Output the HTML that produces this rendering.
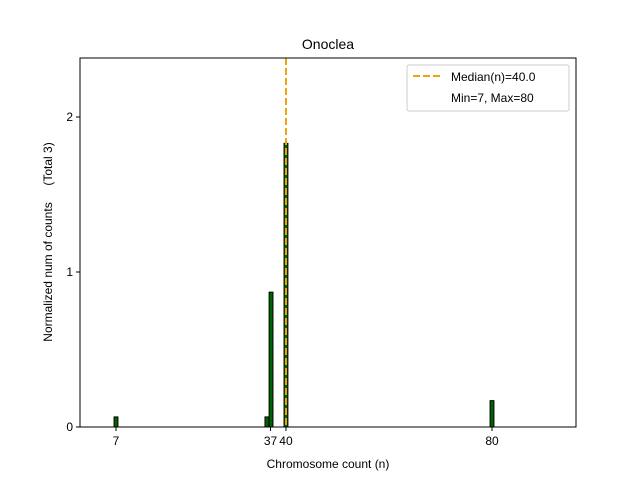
<!DOCTYPE html>
<html><head><meta charset="utf-8"><style>
body{margin:0;background:#fff;font-family:"Liberation Sans","DejaVu Sans",sans-serif}
svg text{font-family:"Liberation Sans","DejaVu Sans",sans-serif}
</style></head><body>
<svg id="c" width="640" height="480" xmlns="http://www.w3.org/2000/svg"></svg>
<script>
const binCenters=[7,36.3,37.1,40,80];
const binValues=[0.065,0.065,0.87,1.83,0.17];
const xTickValues=[7,37,40,80];
const xTickLabels=["7","37","40","80"];
const yTickValues=[0,1,2];
const medianValue=40;
const L=80,R=576,T=58,B=427;
const xs=v=>116+(v-7)*(376/73);
const ys=v=>B-v*155;
const svg=document.getElementById('c');
const NS='http://www.w3.org/2000/svg';
function mk(tag,attrs,parent){const e=document.createElementNS(NS,tag);for(const k in attrs)e.setAttribute(k,attrs[k]);(parent||svg).appendChild(e);return e;}
binCenters.forEach((c,i)=>{
  const w=0.75*376/73;
  const r=mk('rect',{x:xs(c)-w/2,y:ys(binValues[i]),width:w,height:B-ys(binValues[i]),fill:'#006400',stroke:'#000','stroke-width':1});
  
  
});
const ml=mk('line',{x1:xs(medianValue),x2:xs(medianValue),y1:T,y2:B,stroke:'#f0a30a','stroke-width':2,'stroke-dasharray':'7,3'});


const fr=mk('rect',{x:L,y:T,width:R-L,height:B-T,fill:'none',stroke:'#000','stroke-width':1});


xTickValues.forEach((v,i)=>{
  const x=xs(v);
  mk('line',{x1:x,x2:x,y1:B,y2:B+4,stroke:'#000'});
  const t=mk('text',{x:x,y:B+18,'font-size':12,'text-anchor':'middle'});
  t.textContent=xTickLabels[i];
  
  
});
yTickValues.forEach(v=>{
  const y=ys(v);
  mk('line',{x1:L-4,x2:L,y1:y,y2:y,stroke:'#000'});
  const t=mk('text',{x:L-7,y:y+4,'font-size':12,'text-anchor':'end'});
  t.textContent=String(v);
  
  
});
</script>
<svg width="640" height="480" style="position:absolute;left:0;top:0" xmlns="http://www.w3.org/2000/svg">
<text x="328" y="49" font-size="14" text-anchor="middle">Onoclea</text>
<text x="328" y="468" font-size="12" text-anchor="middle">Chromosome count (n)</text>
<text transform="translate(52,242) rotate(-90)" font-size="12" text-anchor="middle" xml:space="preserve">Normalized num of counts     (Total 3)</text>
<g>
<rect x="407" y="65" width="162" height="46" rx="2" fill="#fff" stroke="#ccc"/>
<line x1="413" y1="76" x2="441" y2="76" stroke="#f0a30a" stroke-width="2" stroke-dasharray="7,3"/>
<text x="451" y="81" font-size="12">Median(n)=40.0</text>
<text x="451" y="102" font-size="12">Min=7, Max=80</text>
</g>
</svg>
</body></html>
